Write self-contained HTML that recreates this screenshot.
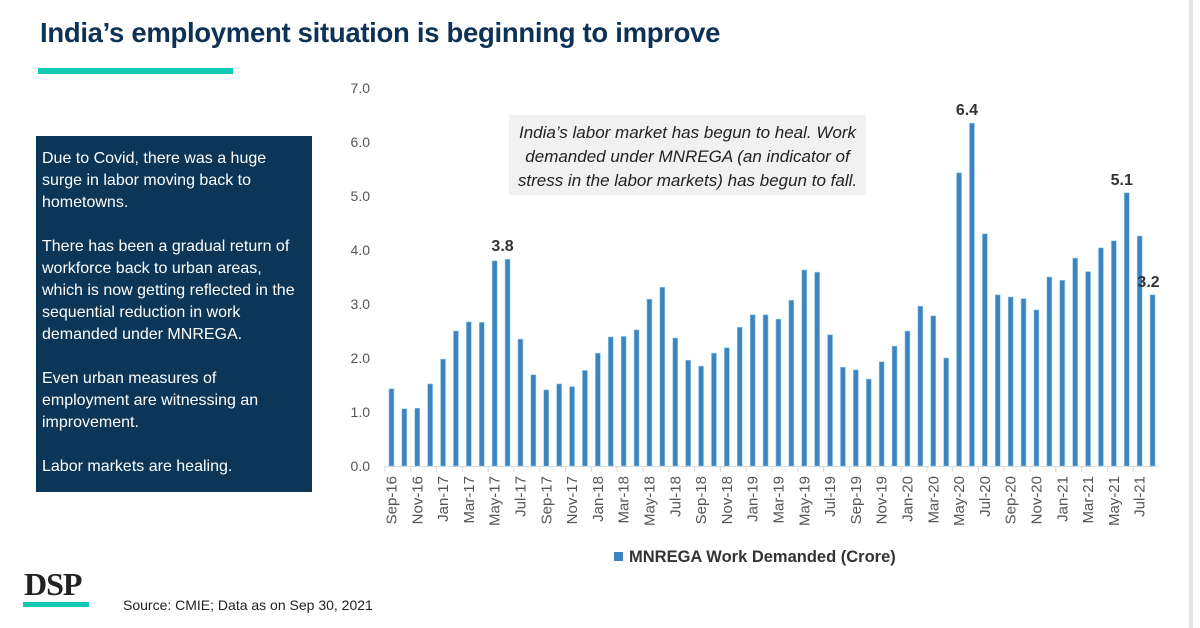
<!DOCTYPE html>
<html><head><meta charset="utf-8">
<style>
body{margin:0;width:1200px;height:628px;background:#fff;overflow:hidden;position:relative;font-family:"Liberation Sans",sans-serif}
.title{position:absolute;left:40px;top:17px;font-size:27.5px;font-weight:bold;color:#0d3256;letter-spacing:-0.3px}
.teal{position:absolute;left:38px;top:68px;width:195px;height:6px;background:#12c9b6}
.box{position:absolute;left:36px;top:136px;width:276px;height:356px;background:#0b3658;color:#fff;font-size:16px;line-height:22px;padding:12px 6px;box-sizing:border-box}
.box p{margin:0 0 22px 0}
.logo{position:absolute;left:24px;top:566px;font-family:"Liberation Serif",serif;font-weight:bold;font-size:32px;color:#222;letter-spacing:-1px}
.logoline{position:absolute;left:23px;top:602px;width:66px;height:5px;background:#12c9b6}
.src{position:absolute;left:123px;top:597px;font-size:14px;color:#222}
.note{position:absolute;left:509px;top:115px;width:357px;height:80px;background:#f1f1f1;font-style:italic;font-size:17px;line-height:24px;color:#222;text-align:center;padding-top:6px;box-sizing:border-box}
.edge{position:absolute;left:1189px;top:0;width:4px;height:628px;background:#e5e5e5}
</style></head><body>
<div class="title">India’s employment situation is beginning to improve</div>
<div class="teal"></div>
<div class="box">
<p>Due to Covid, there was a huge surge in labor moving back to hometowns.</p>
<p>There has been a gradual return of workforce back to urban areas, which is now getting reflected in the sequential reduction in work demanded under MNREGA.</p>
<p>Even urban measures of employment are witnessing an improvement.</p>
<p>Labor markets are healing.</p>
</div>
<div class="edge"></div>
<svg id="chart" width="1200" height="628" style="position:absolute;left:0;top:0"></svg>
<div class="note">India’s labor market has begun to heal. Work demanded under MNREGA (an indicator of stress in the labor markets) has begun to fall.</div>
<div class="logo">DSP</div>
<div class="logoline"></div>
<div class="src">Source: CMIE; Data as on Sep 30, 2021</div>
<script>
const categories=["Sep-16","Oct-16","Nov-16","Dec-16","Jan-17","Feb-17","Mar-17","Apr-17","May-17","Jun-17","Jul-17","Aug-17","Sep-17","Oct-17","Nov-17","Dec-17","Jan-18","Feb-18","Mar-18","Apr-18","May-18","Jun-18","Jul-18","Aug-18","Sep-18","Oct-18","Nov-18","Dec-18","Jan-19","Feb-19","Mar-19","Apr-19","May-19","Jun-19","Jul-19","Aug-19","Sep-19","Oct-19","Nov-19","Dec-19","Jan-20","Feb-20","Mar-20","Apr-20","May-20","Jun-20","Jul-20","Aug-20","Sep-20","Oct-20","Nov-20","Dec-20","Jan-21","Feb-21","Mar-21","Apr-21","May-21","Jun-21","Jul-21","Aug-21"];
const values=[1.43,1.06,1.07,1.52,1.98,2.5,2.67,2.66,3.8,3.83,2.35,1.69,1.41,1.52,1.47,1.77,2.09,2.39,2.4,2.52,3.09,3.31,2.37,1.96,1.85,2.09,2.19,2.57,2.8,2.8,2.72,3.07,3.63,3.59,2.43,1.83,1.78,1.61,1.93,2.22,2.5,2.96,2.78,2.0,5.43,6.35,4.3,3.17,3.13,3.1,2.89,3.5,3.44,3.85,3.6,4.04,4.17,5.06,4.26,3.17];
const yTicks=[0,1,2,3,4,5,6,7];
const labelled={"Jun-17":"3.8","Jun-20":"6.4","Jun-21":"5.1","Aug-21":"3.2"};
const svg=document.getElementById('chart');
const NS='http://www.w3.org/2000/svg';
const x0=385,step=12.9,y0=466,ppu=54;
const xPos=i=>x0+step*(i+0.5);
const yPos=v=>y0-v*ppu;
function mk(t,a){const e=document.createElementNS(NS,t);for(const k in a)e.setAttribute(k,a[k]);svg.appendChild(e);return e;}
yTicks.forEach(v=>{const t=mk('text',{x:370,y:yPos(v)+5,'text-anchor':'end','font-size':'14','fill':'#555'});t.textContent=v.toFixed(1);

});
const ax=mk('line',{x1:x0,x2:x0+step*categories.length,y1:y0+0.5,y2:y0+0.5,stroke:'#d9d9d9','stroke-width':1});


categories.forEach((c,i)=>{
 const v=values[i];
 const r=mk('rect',{x:xPos(i)-2.5,y:yPos(v),width:5,height:v*ppu,fill:'#3f82c0',stroke:'#8fd3e8','stroke-width':0.6});
 
 
 if(i%2==0){
  const tk=mk('line',{x1:x0+step*i,x2:x0+step*i,y1:y0,y2:y0+6,stroke:'#d9d9d9'});
  
  
  const t=mk('text',{x:0,y:0,'text-anchor':'end','font-size':'15','fill':'#555',transform:`translate(${xPos(i)+5},${y0+10}) rotate(-90)`});
  t.textContent=c;
  
  
 }
 if(labelled[c]){
  const dx=c==="Aug-21"?-4:-5;
  const t=mk('text',{x:xPos(i)+dx,y:yPos(v)-8,'text-anchor':'middle','font-size':'16','font-weight':'bold','fill':'#333'});
  t.textContent=labelled[c];
  
  
 }
});
const lg=mk('rect',{x:614,y:552,width:9,height:9,fill:'#3f82c0'});


const lt=mk('text',{x:629,y:562,'font-size':'16.5','font-weight':'bold','fill':'#333'});
lt.textContent='MNREGA Work Demanded (Crore)';


</script>
</body></html>
